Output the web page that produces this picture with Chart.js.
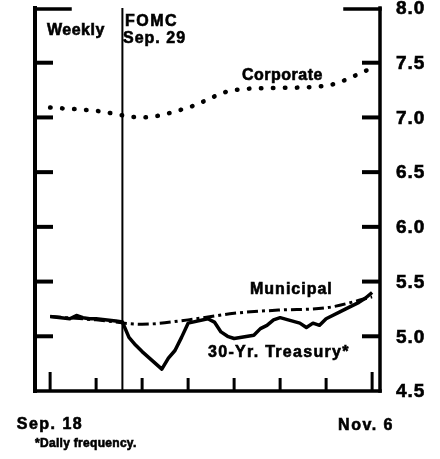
<!DOCTYPE html>
<html>
<head>
<meta charset="utf-8">
<script src="https://cdn.jsdelivr.net/npm/chart.js@4/dist/chart.umd.min.js"></script>
<style>
  html, body { margin: 0; padding: 0; background: #fff; }
  #yields { display: block; }
</style>
</head>
<body>
<canvas id="yields" width="440" height="459"></canvas>
<script>
// --- Дані (дні від 18 вересня) ---
const weekDays = [0, 7, 14, 21, 28, 35, 42, 49];
const corporate = [7.09, 7.06, 7.00, 7.09, 7.25, 7.27, 7.29, 7.45];
const municipal = [5.18, 5.15, 5.11, 5.15, 5.21, 5.24, 5.26, 5.36];

// 30-річні трейжері, щоденно (тільки робочі дні)
const treasuryDays = [0, 3, 4, 5, 6, 7, 10, 11, 12, 13, 14, 17, 18, 19, 20, 21,
  24, 25, 26, 27, 28, 31, 32, 33, 34, 35, 38, 39, 40, 41, 42, 45, 46, 47, 48, 49];
const treasury = [5.18, 5.16, 5.19, 5.17, 5.16, 5.16, 5.14, 5.13, 4.99, 4.92, 4.86, 4.70, 4.80, 4.87, 4.99, 5.12,
  5.16, 5.13, 5.04, 5.00, 4.98, 5.01, 5.07, 5.10, 5.15, 5.17, 5.12, 5.08, 5.12, 5.10, 5.16, 5.25, 5.28, 5.31, 5.35, 5.40];

const yTicks = [4.5, 5.0, 5.5, 6.0, 6.5, 7.0, 7.5, 8.0];
const yTickLabels = ['4.5', '5.0', '5.5', '6.0', '6.5', '7.0', '7.5', '8.0'];
const xTicks = [0, 7, 14, 21, 28, 35, 42, 49];
const fomcDay = 11;

const FAMILY = '"Liberation Sans", Arial, sans-serif';

function pts(xs, ys) { return xs.map((d, i) => ({ x: d, y: ys[i] })); }

function seg(ctx, x1, y1, x2, y2, w) {
    ctx.lineWidth = w;
    ctx.beginPath(); ctx.moveTo(x1, y1); ctx.lineTo(x2, y2); ctx.stroke();
}

// жирний текст з легкою обводкою, щоб виглядав щільніше
function txt(ctx, s, x, y, size, align, spacing) {
    ctx.font = 'bold ' + size + 'px ' + FAMILY;
    ctx.textAlign = align || 'left';
    ctx.letterSpacing = (spacing || 0) + 'px';
    ctx.lineWidth = 0.6;
    ctx.fillText(s, x, y);
    ctx.strokeText(s, x, y);
}

// --- Рамка, засічки, підписи ---
const framePlugin = {
    id: 'frame',
    beforeDatasetsDraw(chart) {
        const { ctx, chartArea: a, scales: { x } } = chart;
        ctx.save();
        ctx.strokeStyle = '#000';
        const fx = x.getPixelForValue(fomcDay);
        seg(ctx, fx, a.top, fx, a.bottom, 2);
        ctx.restore();
    },
    afterDraw(chart) {
        const { ctx, chartArea: a, scales: { x, y } } = chart;
        ctx.save();
        ctx.strokeStyle = '#000';
        ctx.fillStyle = '#000';
        ctx.lineCap = 'square';

        // осі
        seg(ctx, a.left, a.top, a.left, a.bottom, 4);
        seg(ctx, a.right, a.top, a.right, a.bottom, 3.5);
        seg(ctx, a.left, a.bottom, a.right, a.bottom, 3.5);
        // верхні скоби
        seg(ctx, a.left, a.top + 1, a.left + 35, a.top + 1, 3.5);
        seg(ctx, a.right - 35, a.top + 1, a.right, a.top + 1, 3.5);

        ctx.lineCap = 'butt';
        yTicks.forEach((v, i) => {
            const py = y.getPixelForValue(v);
            if (i > 0 && i < yTicks.length - 1) {
                seg(ctx, a.left, py, a.left + 18, py, 4);
                seg(ctx, a.right - 18, py, a.right, py, 4);
            }
            ctx.textBaseline = 'middle';
            txt(ctx, yTickLabels[i], a.right + 16, py + 1, 19, 'left', 1);
        });

        xTicks.forEach((d, i) => {
            const px = x.getPixelForValue(d);
            const len = (i === 0 || i === xTicks.length - 1) ? 19 : 13;
            seg(ctx, px, a.bottom, px, a.bottom - len, 3);
        });

        ctx.textBaseline = 'alphabetic';
        txt(ctx, 'Weekly', 47, 35, 16, 'left', 0.5);
        txt(ctx, 'FOMC', 125, 26, 16, 'left', 1.5);
        txt(ctx, 'Sep. 29', 123, 43, 16, 'left', 1);
        txt(ctx, 'Corporate', 242, 80, 16, 'left', 0.5);
        txt(ctx, 'Municipal', 250, 294, 16, 'left', 1);
        txt(ctx, '30-Yr. Treasury*', 208, 357, 16, 'left', 1.3);
        txt(ctx, 'Sep. 18', 50, 429, 16, 'center', 1.5);
        txt(ctx, 'Nov. 6', 366, 430, 16, 'center', 1.5);
        txt(ctx, '*Daily frequency.', 35, 447, 12, 'left', 0.3);
        ctx.restore();
    }
};

new Chart(document.getElementById('yields'), {
    type: 'line',
    data: {
        datasets: [
            {
                label: 'Corporate', data: pts(weekDays, corporate),
                borderColor: '#000', borderWidth: 4.5, borderDash: [0.5, 11.5], borderCapStyle: 'round',
                cubicInterpolationMode: 'monotone', pointRadius: 0
            },
            {
                label: 'Municipal', data: pts(weekDays, municipal),
                borderColor: '#000', borderWidth: 3, borderDash: [11, 4, 3, 4],
                cubicInterpolationMode: 'monotone', pointRadius: 0
            },
            {
                label: '30-Yr. Treasury*', data: pts(treasuryDays, treasury),
                borderColor: '#000', borderWidth: 3.5, borderJoinStyle: 'round',
                tension: 0, pointRadius: 0
            }
        ]
    },
    options: {
        responsive: false,
        animation: false,
        layout: { padding: { left: 35, right: 60, top: 8, bottom: 68 } },
        plugins: { legend: { display: false }, tooltip: { enabled: false } },
        scales: {
            x: { type: 'linear', min: -2.3, max: 50.2, display: false },
            y: { min: 4.5, max: 8.0, display: false }
        }
    },
    plugins: [framePlugin]
});
</script>
</body>
</html>
